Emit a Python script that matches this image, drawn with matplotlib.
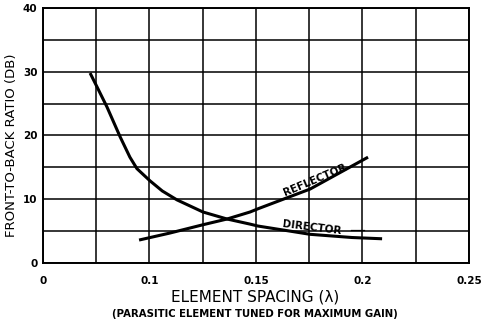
import matplotlib
matplotlib.use("Agg")
import matplotlib.pyplot as plt
import numpy as np

# curves (x in wavelengths, y in dB)
director_x = [0.0721, 0.0754, 0.0800, 0.0862, 0.0908, 0.0941, 0.1002, 0.1060,
              0.1129, 0.1251, 0.1364, 0.1472, 0.1509, 0.1754, 0.1950, 0.2092]
director_y = [29.8, 27.6, 24.5, 19.8, 16.6, 14.8, 12.9, 11.3,
              9.9, 8.0, 6.9, 6.1, 5.8, 4.5, 4.0, 3.8]
reflector_x = [0.0951, 0.1096, 0.1251, 0.1364, 0.1472, 0.1509, 0.1754, 0.2026]
reflector_y = [3.6, 4.7, 6.0, 6.9, 8.0, 8.5, 11.6, 16.6]

xticks = [0.05, 0.1, 0.15, 0.2, 0.25]
xticklabels = ["0", "0.1", "0.15", "0.2", "0.25"]
yticks = [0, 10, 20, 30, 40]

fig = plt.figure(figsize=(4.85, 3.24), dpi=100)
ax = fig.add_axes([43 / 485, 61 / 324, 426 / 485, 255 / 324])

ax.plot(director_x, director_y, color="black", lw=2.2,
        solid_capstyle="butt", solid_joinstyle="round")
ax.plot(reflector_x, reflector_y, color="black", lw=2.2,
        solid_capstyle="butt", solid_joinstyle="round")

ax.set_xlim(0.05, 0.25)
ax.set_ylim(0, 40)
ax.set_xticks(np.arange(0.05, 0.2501, 0.025), minor=True)
ax.set_yticks(np.arange(0, 40.1, 5), minor=True)
ax.set_xticks(xticks)
ax.set_xticklabels(xticklabels)
ax.set_yticks(yticks)
ax.grid(True, which="both", color="black", lw=1.1)
ax.tick_params(which="both", length=0)
ax.tick_params(axis="x", pad=9, labelsize=7.5)
ax.tick_params(axis="y", pad=4, labelsize=7.5)
for lbl in ax.get_xticklabels() + ax.get_yticklabels():
    lbl.set_fontweight("bold")
for s in ax.spines.values():
    s.set_linewidth(1.4)

ax.text(0.1777, 13.0, "REFLECTOR", rotation=23, ha="center", va="center",
        fontsize=7.5, fontweight="bold")
ax.text(0.1763, 5.6, "DIRECTOR", rotation=-7, ha="center", va="center",
        fontsize=7.5, fontweight="bold")
ax.plot([0.1945, 0.2005], [5.2, 5.2], color="black", lw=0.9)

ax.set_ylabel("FRONT-TO-BACK RATIO (DB)", fontsize=9.5)
ax.yaxis.set_label_coords(-0.058, 0.46)
fig.text(255 / 485, 1 - 297 / 324, "ELEMENT SPACING (\u03bb)", ha="center",
         va="center", fontsize=11)
fig.text(255 / 485, 1 - 314 / 324, "(PARASITIC ELEMENT TUNED FOR MAXIMUM GAIN)",
         ha="center", va="center", fontsize=7.3, fontweight="bold")

fig.savefig("out.png", dpi=100)
